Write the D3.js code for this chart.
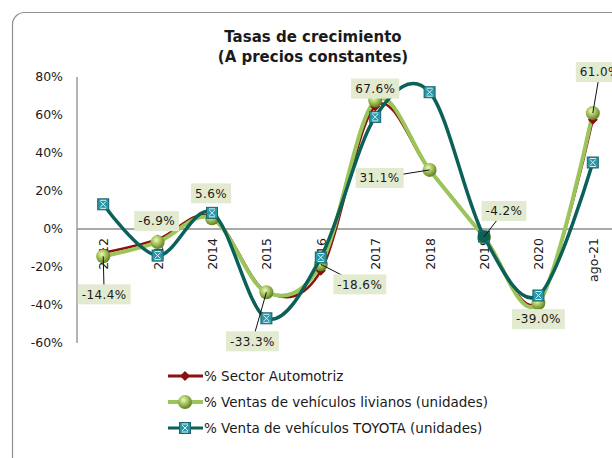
<html>
<head>
<meta charset="utf-8">
<style>
  body { margin:0; background:#fff; }
  text { font-family: "DejaVu Sans", Verdana, sans-serif; fill:#1a1a1a; }
  .axis-line { stroke:#8c8c8c; stroke-width:1.3px; }
  .lbl rect { fill:#e2ead0; }
</style>
</head>
<body>
<div id="chart"></div>
<script src="https://cdnjs.cloudflare.com/ajax/libs/d3/7.8.5/d3.min.js"></script>
<script>
// data (percent)
var years = ["2012","2013","2014","2015","2016","2017","2018","2019","2020","ago-21"];
var sector = [-12.5, -5.5, 6.5, -33.0, -22.0, 64.5, 31.0, -4.0, -38.0, 57.5];
var livianos = [-14.4, -6.9, 5.6, -33.3, -18.6, 67.6, 31.1, -4.2, -39.0, 61.0];
var toyota = [13.0, -14.0, 8.5, -47.0, -15.0, 59.0, 72.0, -4.0, -35.0, 35.0];
var yTicks = [80, 60, 40, 20, 0, -20, -40, -60];
var seriesNames = ["% Sector Automotriz", "% Ventas de vehículos livianos (unidades)", "% Venta de vehículos TOYOTA (unidades)"];
// label placement (px offsets from the point)
var labelOff = [[1,38],[-1,-21],[-1,-25],[-14,49],[39,20],[0,-12],[-50,8],[20,-26],[0,16],[7,-41]];

var width = 612, height = 458;
var svg = d3.select("#chart").append("svg").attr("width", width).attr("height", height);

// chart border
svg.append("rect").attr("x", 12.5).attr("y", 12.5).attr("width", 640).attr("height", 480)
    .attr("rx", 12).attr("fill", "none").attr("stroke", "#8f8f8f").attr("stroke-width", 1.2);

// title
svg.append("text").attr("x", 313).attr("y", 42).attr("text-anchor", "middle")
    .style("font-size", "15px").style("font-weight", "bold").text("Tasas de crecimiento");
svg.append("text").attr("x", 313).attr("y", 62).attr("text-anchor", "middle")
    .style("font-size", "15px").style("font-weight", "bold").text("(A precios constantes)");

var x = d3.scaleBand().domain(years.concat(["", " "])).range([76, 76 + 12 * 54.4]);
var y = d3.scaleLinear().domain([-60, 80]).range([343, 77]);
var cx = function(i) { return x(years[i]) + x.bandwidth() / 2; };

// axes
svg.append("line").attr("class", "axis-line").attr("x1", 77).attr("x2", 77).attr("y1", y(80)).attr("y2", y(-60));
svg.append("line").attr("class", "axis-line").attr("x1", 77).attr("x2", width).attr("y1", y(0)).attr("y2", y(0));

svg.append("g").selectAll("text").data(yTicks).enter().append("text")
    .attr("x", 63).attr("y", d => y(d)).attr("dy", "0.35em").attr("text-anchor", "end")
    .style("font-size", "12.5px").text(d => d + "%");

svg.append("g").selectAll("text").data(years).enter().append("text")
    .attr("transform", (d, i) => "translate(" + (cx(i) + 5) + "," + (y(0) + 9) + ")rotate(-90)")
    .attr("text-anchor", "end").style("font-size", "12.5px").text(d => d);

// defs
var defs = svg.append("defs");
var grad = defs.append("radialGradient").attr("id", "sphere").attr("cx", "40%").attr("cy", "35%").attr("r", "65%");
grad.append("stop").attr("offset", "0%").attr("stop-color", "#eef7c4");
grad.append("stop").attr("offset", "45%").attr("stop-color", "#a9c85e");
grad.append("stop").attr("offset", "100%").attr("stop-color", "#5f7d22");

var line = function(vals) {
    return d3.line().x((d, i) => cx(i)).y(d => y(d)).curve(d3.curveCardinal.tension(0))(vals);
};

var cRed = "#8b1010", cGreen = "#9bc55a", cTeal = "#0b6158";

svg.append("path").attr("d", line(sector)).attr("fill", "none").attr("stroke", cRed).attr("stroke-width", 2.5);
svg.append("path").attr("d", line(livianos)).attr("fill", "none").attr("stroke", cGreen).attr("stroke-width", 4);

function diamond(g, px, py) {
    g.append("path").attr("d", "M" + px + "," + (py - 5) + "L" + (px + 5) + "," + py + "L" + px + "," + (py + 5) + "L" + (px - 5) + "," + py + "Z")
        .attr("fill", cRed);
}
function sphere(g, px, py) {
    g.append("circle").attr("cx", px).attr("cy", py).attr("r", 7).attr("fill", "url(#sphere)");
}
function square(g, px, py) {
    g.append("rect").attr("x", px - 5.5).attr("y", py - 5.5).attr("width", 11).attr("height", 11)
        .attr("fill", "#2a97a6").attr("stroke", "#1a6470").attr("stroke-width", 1);
    g.append("path").attr("d", "M" + (px - 3) + "," + (py - 3) + "L" + (px + 3) + "," + (py + 3) + "M" + (px + 3) + "," + (py - 3) + "L" + (px - 3) + "," + (py + 3) + "M" + (px - 3) + "," + (py - 4) + "L" + (px + 3) + "," + (py - 4) + "M" + (px - 3) + "," + (py + 4) + "L" + (px + 3) + "," + (py + 4))
        .attr("stroke", "#d6f1f4").attr("stroke-width", 1);
}

var mk = svg.append("g");
sector.forEach((d, i) => diamond(mk, cx(i), y(d)));
livianos.forEach((d, i) => sphere(mk, cx(i), y(d)));

svg.append("path").attr("d", line(toyota)).attr("fill", "none").attr("stroke", cTeal).attr("stroke-width", 3.5);
var mk2 = svg.append("g");
toyota.forEach((d, i) => square(mk2, cx(i), y(d)));
// 2019 point is drawn dark
mk2.append("circle").attr("cx", cx(7)).attr("cy", y(toyota[7])).attr("r", 6).attr("fill", cTeal);

// data labels
var lbl = svg.append("g").attr("class", "lbl");
livianos.forEach(function(d, i) {
    var px = cx(i), py = y(d);
    var lx = px + labelOff[i][0], ly = py + labelOff[i][1];
    if (Math.hypot(labelOff[i][0], labelOff[i][1]) > 30) {
        lbl.append("line").attr("x1", px).attr("y1", py).attr("x2", lx).attr("y2", ly)
            .attr("stroke", "#111").attr("stroke-width", 1);
    }
    var t = lbl.append("text").attr("x", lx).attr("y", ly).attr("dy", "0.36em").attr("text-anchor", "middle")
        .style("font-size", "12px").style("letter-spacing", "0.4px").text(d.toFixed(1) + "%");
    var w = t.node().getComputedTextLength() + 8;
    lbl.insert("rect", function() { return t.node(); })
        .attr("x", lx - w / 2).attr("y", ly - 10).attr("width", w).attr("height", 20);
});

// legend
var leg = svg.append("g");
var legY = [376, 402, 428];
var legC = [cRed, cGreen, cTeal];
seriesNames.forEach(function(n, i) {
    leg.append("line").attr("x1", 168).attr("x2", 203).attr("y1", legY[i]).attr("y2", legY[i])
        .attr("stroke", legC[i]).attr("stroke-width", i == 1 ? 4 : 3);
    if (i == 0) diamond(leg, 185, legY[i]);
    if (i == 1) sphere(leg, 185, legY[i]);
    if (i == 2) square(leg, 185, legY[i]);
    leg.append("text").attr("x", 204).attr("y", legY[i]).attr("dy", "0.36em")
        .style("font-size", "13.5px").text(n);
});
</script>
</body>
</html>
